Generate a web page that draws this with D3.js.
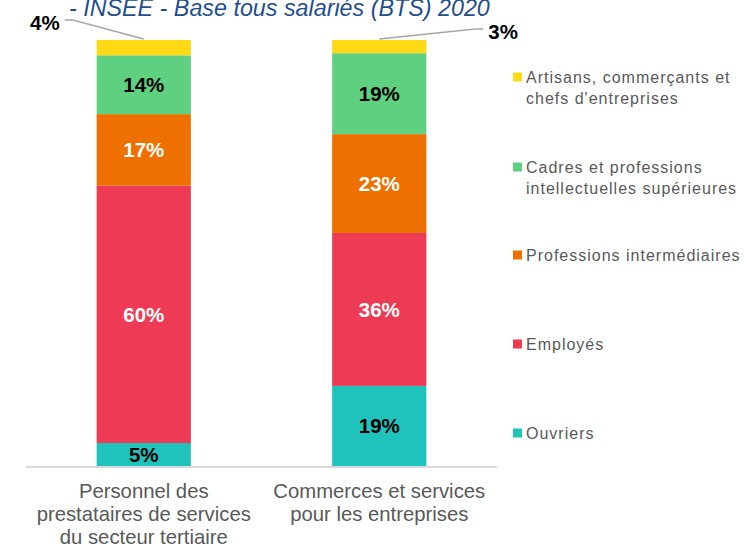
<!doctype html>
<html lang="fr">
<head>
    <meta charset="utf-8">
    <title>Catégories socioprofessionnelles</title>
    <script src="https://d3js.org/d3.v7.min.js"></script>
    <style>
        body { margin: 0; background: #fff; }
        svg { font-family: "Liberation Sans", Arial, sans-serif; }
    </style>
</head>
<body>
    <svg width="745" height="545"></svg>
    <script>
        // data
        var categories = ["Personnel des prestataires de services du secteur tertiaire",
                          "Commerces et services pour les entreprises"];
        var categoryLines = [["Personnel des", "prestataires de services", "du secteur tertiaire"],
                             ["Commerces et services", "pour les entreprises"]];
        var seriesNames = ["Ouvriers", "Employés", "Professions intermédiaires",
                           "Cadres et professions intellectuelles supérieures",
                           "Artisans, commerçants et chefs d'entreprises"];
        var legendLines = [["Ouvriers"], ["Employés"], ["Professions intermédiaires"],
                           ["Cadres et professions", "intellectuelles supérieures"],
                           ["Artisans, commerçants et", "chefs d'entreprises"]];
        var ouvriers = [5.4, 18.8];
        var employes = [60.4, 35.9];
        var intermediaires = [16.8, 23.2];
        var cadres = [13.8, 19.0];
        var artisans = [3.6, 3.1];
        var colors = ["#20c2bc", "#ee3b55", "#ed7000", "#5fcf80", "#ffd916"];
        var labelColors = ["#000", "#fff", "#fff", "#000", "#000"];

        var svg = d3.select("svg");
        var plotLeft = 26, plotRight = 497, plotTop = 40, plotBottom = 466;

        var x = d3.scaleBand().domain(categories).range([plotLeft, plotRight])
            .paddingInner(0.6).paddingOuter(0.3);
        var y = d3.scaleLinear().domain([0, 100]).range([plotBottom, plotTop]);

        var rows = categories.map(function(c, i) {
            return { cat: c, s0: ouvriers[i], s1: employes[i], s2: intermediaires[i], s3: cadres[i], s4: artisans[i] };
        });
        var stack = d3.stack().keys(["s0", "s1", "s2", "s3", "s4"])(rows);

        // title (partly cut at the top)
        svg.append("text")
            .attr("x", 69).attr("y", 16)
            .style("font-size", "23.3px").style("font-style", "italic")
            .attr("fill", "#1f4e8f")
            .text("- INSEE - Base tous salariés (BTS) 2020");

        var groups = svg.selectAll(".serie").data(stack).enter().append("g")
            .attr("fill", function(d, i) { return colors[i]; });

        groups.selectAll("rect").data(function(d) { return d; }).enter().append("rect")
            .attr("x", function(d) { return x(d.data.cat); })
            .attr("width", x.bandwidth())
            .attr("y", function(d) { return y(d[1]); })
            .attr("height", function(d) { return y(d[0]) - y(d[1]); });

        // labels inside bars (not the small top segment)
        stack.slice(0, 4).forEach(function(s, si) {
            svg.append("g").selectAll("text").data(s).enter().append("text")
                .attr("x", function(d) { return x(d.data.cat) + x.bandwidth() / 2; })
                .attr("y", function(d) { return (y(d[0]) + y(d[1])) / 2; })
                .attr("dy", "0.35em")
                .attr("text-anchor", "middle")
                .style("font-size", "20.5px").style("font-weight", "bold")
                .attr("fill", labelColors[si])
                .text(function(d) { return Math.round(d[1] - d[0]) + "%"; });
        });

        // top segment labels with leader lines
        var topSeg = stack[4];
        var leaders = [
            { dx: -71, dy: -19, side: -1 },
            { dx: 96, dy: -10, side: 1 }
        ];
        topSeg.forEach(function(d, i) {
            var cx = x(d.data.cat) + x.bandwidth() / 2;
            var cy = y(d[1]) - 1;
            var L = leaders[i];
            var ex = cx + L.dx, ey = cy + L.dy;
            svg.append("polyline")
                .attr("points", cx + "," + cy + " " + ex + "," + ey + " " + (ex + L.side * 8) + "," + ey)
                .attr("fill", "none").attr("stroke", "#a6a6a6").attr("stroke-width", 1.3);
            svg.append("text")
                .attr("x", ex + L.side * 13).attr("y", ey + 3)
                .attr("dy", "0.35em")
                .attr("text-anchor", L.side < 0 ? "end" : "start")
                .style("font-size", "20.5px").style("font-weight", "bold")
                .attr("fill", "#000")
                .text(Math.round(d[1] - d[0]) + "%");
        });

        // baseline
        svg.append("line")
            .attr("x1", plotLeft).attr("x2", plotRight)
            .attr("y1", y(0) + 1).attr("y2", y(0) + 1)
            .attr("stroke", "#d9d9d9").attr("stroke-width", 2);

        // category labels
        categories.forEach(function(c, i) {
            var t = svg.append("text")
                .attr("x", x(c) + x.bandwidth() / 2)
                .attr("y", 498)
                .attr("text-anchor", "middle")
                .style("font-size", "20.3px")
                .attr("fill", "#595959");
            categoryLines[i].forEach(function(line, j) {
                t.append("tspan").attr("x", x(c) + x.bandwidth() / 2)
                    .attr("dy", j == 0 ? 0 : 23).text(line);
            });
        });

        // legend
        var legendY = [433, 344, 255, 167, 77];
        seriesNames.forEach(function(n, i) {
            var g = svg.append("g").attr("transform", "translate(513," + legendY[i] + ")");
            g.append("rect").attr("x", 0).attr("y", -4.5).attr("width", 9).attr("height", 9)
                .attr("fill", colors[i]);
            var t = g.append("text").attr("x", 13).attr("y", 0)
                .style("font-size", "16px").style("letter-spacing", "1px")
                .attr("fill", "#595959");
            legendLines[i].forEach(function(line, j) {
                t.append("tspan").attr("x", 13).attr("dy", j == 0 ? "0.35em" : 21).text(line);
            });
        });
    </script>
</body>
</html>
